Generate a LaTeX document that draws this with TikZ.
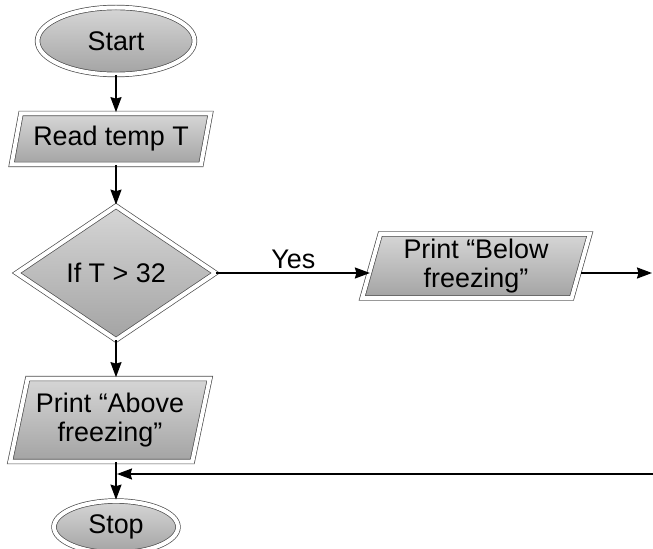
\documentclass[tikz,border=0pt]{standalone}
\usepackage{fontspec}
\setmainfont{Liberation Sans}
\usetikzlibrary{shapes.geometric,arrows.meta}
\begin{document}
\begin{tikzpicture}[x=1bp,y=-1bp,shorten >=1pt,->,>={Stealth[length=15bp,width=11bp,inset=1.5bp]},line width=1.8bp,draw=black]
	\tikzstyle{block}=[draw=black!70,line width=0.7bp,double=white,double distance=4bp,top color=black!16,middle color=black!22,bottom color=black!36,font=\fontsize{27}{30}\selectfont,align=center,inner sep=0pt]
	\tikzstyle{terminal block}=[block,ellipse,minimum width=157bp,minimum height=67bp]
	\tikzstyle{io block}=[block,trapezium,trapezium left angle=72,trapezium right angle=108,trapezium stretches=true,minimum width=199bp,minimum height=51bp]
	\tikzstyle{decision block}=[block,diamond,aspect=1.47,minimum width=199bp,minimum height=134bp]
	\tikzstyle{annot}=[font=\fontsize{27}{30}\selectfont,inner sep=3bp]
	
	\clip (0,0) rectangle (653,549);
	
	% Inicio y lectura
	\node[terminal block] (Start) at (116,41) {Start};
	\node[io block] (Read) at (111,139) {Read temp T};
	
	% Decision
	\node[decision block] (If) at (116,273) {If T > 32};
	
	% Salidas
	\node[io block,minimum width=228bp,minimum height=64bp,trapezium left angle=76,trapezium right angle=104] (Below) at (476,266) {Print “Below\\freezing”};
	\node[io block,minimum width=200bp,minimum height=83bp,trapezium left angle=74,trapezium right angle=106] (Above) at (110,420) {Print “Above\\freezing”};
	\node[terminal block,minimum width=124bp,minimum height=52bp] (Stop) at (116,527) {Stop};
	
	\coordinate (Out) at (653,273);
	\coordinate (Back) at (653,474);
	\coordinate (Join) at (116,474);
	
	% Conexiones
	\draw (Start.south) -- (Start.south |- Read.north);
	\draw (Read.south -| If.north) -- (If.north);
	\draw (If.east) -- node[annot,above] {Yes} (If.east -| Below.west);
	\draw (Below.east |- Out) -- (Out);
	\draw (If.south) -- (If.south |- Above.north);
	\draw (Above.south -| Stop.north) -- (Stop.north);
	\draw (Back) -- (Join);
\end{tikzpicture}
\end{document}
